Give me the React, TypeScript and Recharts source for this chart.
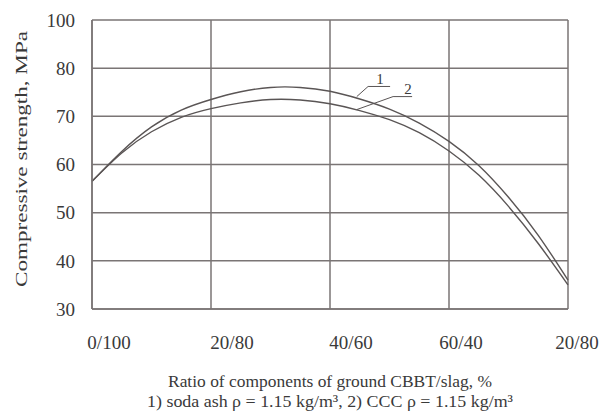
import React from 'react';
import {
  LineChart,
  Line,
  XAxis,
  YAxis,
  CartesianGrid,
  ReferenceLine,
  ReferenceDot
} from 'recharts';

// x positions along the CBBT/slag axis (0..80)
const ratioPos = [0, 5, 10, 15, 20, 25, 30, 35, 40, 45, 50, 55, 60, 65, 70, 75, 80];
// 1) soda ash
const sodaAsh = [56.5, 62.7, 67.8, 71.3, 73.5, 75.1, 76.0, 76.0, 75.2, 73.6, 71.5, 68.6, 64.8, 59.8, 53.2, 45.3, 36.0];
// 2) CCC
const ccc = [56.5, 62.4, 66.8, 69.8, 71.6, 72.8, 73.5, 73.4, 72.6, 71.2, 69.3, 66.6, 62.8, 57.8, 51.3, 43.6, 35.0];

const xTicks = [0, 20, 40, 60, 80];
const xTickLabels = ['0/100', '20/80', '40/60', '60/40', '20/80'];
const yTicks = [30, 40, 50, 60, 70, 80, 90];
const yTickLabels = ['30', '40', '50', '60', '70', '80', '100'];

const data = ratioPos.map((x, i) => ({ x, s1: sodaAsh[i], s2: ccc[i] }));

const FONT = '"Liberation Serif", "Times New Roman", serif';
const INK = '#3a3a3a';
const GRID = '#7a7575';
const CURVE = '#5a5555';

// labels in the source sit a little right of their gridlines
const tickShift = [17, 21, 21, 12, 9];

const XTick = (props: any) => {
  const { x, y, index } = props;
  return (
    <text
      x={x + (tickShift[index] ?? 15)}
      y={y + 38}
      textAnchor="middle"
      fontFamily={FONT}
      fontSize={19}
      fill={INK}
    >
      {xTickLabels[index]}
    </text>
  );
};

const XTitle = (props: any) => {
  const { viewBox } = props;
  const cx = viewBox.x + viewBox.width / 2;
  return (
    <g fontFamily={FONT} fontSize={17.5} fill={INK}>
      <text x={cx} y={387} textAnchor="middle" textLength={324} lengthAdjust="spacingAndGlyphs">
        Ratio of components of ground CBBT/slag, %
      </text>
      <text x={cx} y={407} textAnchor="middle" textLength={366} lengthAdjust="spacingAndGlyphs">
        1) soda ash ρ = 1.15 kg/m³, 2) CCC ρ = 1.15 kg/m³
      </text>
    </g>
  );
};

const YTitle = () => (
  <text
    x={0}
    y={0}
    transform="translate(27, 159) rotate(-90)"
    textAnchor="middle"
    fontFamily={FONT}
    fontSize={17.5}
    fill={INK}
    textLength={256}
    lengthAdjust="spacingAndGlyphs"
  >
    Compressive strength, MPa
  </text>
);

export default function App() {
  return (
    <div style={{ position: 'absolute', left: 0, top: 0, background: '#fff' }}>
      <LineChart
        width={600}
        height={418}
        data={data}
        margin={{ top: 20, right: 32, bottom: 0, left: 0 }}
      >
        <CartesianGrid stroke={GRID} strokeWidth={1.5} />
        <XAxis
          dataKey="x"
          type="number"
          domain={[0, 80]}
          ticks={xTicks}
          tick={<XTick />}
          tickLine={false}
          axisLine={{ stroke: GRID, strokeWidth: 1.5 }}
          tickSize={0}
          height={109}
          interval={0}
          label={<XTitle />}
        />
        <YAxis
          type="number"
          domain={[30, 90]}
          ticks={yTicks}
          tickFormatter={(v: number) => yTickLabels[yTicks.indexOf(v)]}
          tick={{ fontFamily: FONT, fontSize: 19, fill: INK }}
          tickLine={false}
          axisLine={{ stroke: GRID, strokeWidth: 1.5 }}
          tickSize={0}
          tickMargin={17}
          width={92}
          interval={0}
          label={<YTitle />}
        />
        <Line
          type="natural"
          dataKey="s1"
          stroke={CURVE}
          strokeWidth={1.4}
          dot={false}
          isAnimationActive={false}
        />
        <Line
          type="natural"
          dataKey="s2"
          stroke={CURVE}
          strokeWidth={1.4}
          dot={false}
          isAnimationActive={false}
        />
        {/* leader lines for curve labels */}
        <ReferenceLine segment={[{ x: 44.5, y: 74.1 }, { x: 46.4, y: 76.2 }]} stroke={CURVE} strokeWidth={1} />
        <ReferenceLine segment={[{ x: 46.4, y: 76.2 }, { x: 50.1, y: 76.2 }]} stroke={CURVE} strokeWidth={1} />
        <ReferenceLine segment={[{ x: 44.5, y: 71.4 }, { x: 50.6, y: 74.1 }]} stroke={CURVE} strokeWidth={1} />
        <ReferenceLine segment={[{ x: 50.6, y: 74.1 }, { x: 53.8, y: 74.1 }]} stroke={CURVE} strokeWidth={1} />
        <ReferenceDot
          x={48.4}
          y={77.9}
          r={0}
          fill="none"
          stroke="none"
          label={{ value: '1', position: 'center', fontFamily: FONT, fontSize: 15, fill: INK }}
        />
        <ReferenceDot
          x={53.1}
          y={75.8}
          r={0}
          fill="none"
          stroke="none"
          label={{ value: '2', position: 'center', fontFamily: FONT, fontSize: 15, fill: INK }}
        />
      </LineChart>
    </div>
  );
}
